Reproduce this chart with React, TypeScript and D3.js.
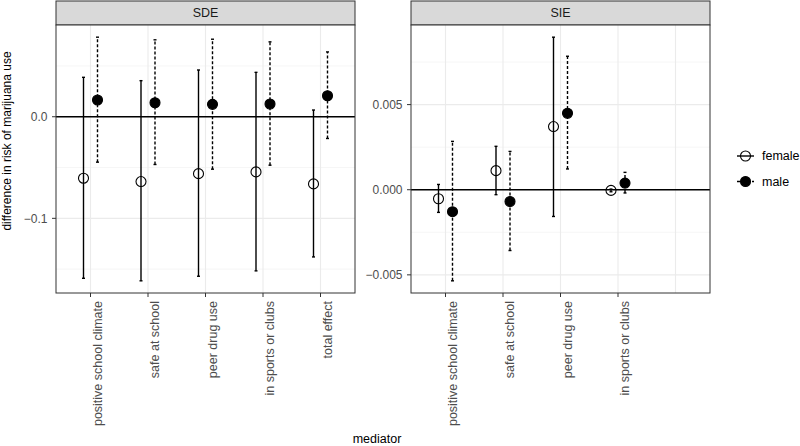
import React from "react";
import * as d3 from "d3";

const categories = ["positive school climate", "safe at school", "peer drug use", "in sports or clubs", "total effect"];
const sieCategories = ["positive school climate", "safe at school", "peer drug use", "in sports or clubs"];

// SDE panel
const sdeFemaleEst = [-0.0605, -0.0638, -0.056, -0.0543, -0.0661];
const sdeFemaleLo = [-0.159, -0.1615, -0.157, -0.1517, -0.138];
const sdeFemaleHi = [0.0388, 0.0355, 0.046, 0.0437, 0.0066];
const sdeMaleEst = [0.0165, 0.0138, 0.0122, 0.0125, 0.0207];
const sdeMaleLo = [-0.0447, -0.047, -0.0516, -0.0477, -0.0214];
const sdeMaleHi = [0.0783, 0.0757, 0.0763, 0.0737, 0.0638];

// SIE panel
const sieFemaleEst = [-0.00053, 0.00112, 0.00371, -0.00004];
const sieFemaleLo = [-0.00133, -0.00029, -0.00157, -0.00012];
const sieFemaleHi = [0.00031, 0.00255, 0.00896, 0.00004];
const sieMaleEst = [-0.00129, -0.00069, 0.00449, 0.00039];
const sieMaleLo = [-0.00535, -0.00357, 0.00122, -0.00019];
const sieMaleHi = [0.00284, 0.00225, 0.00784, 0.00102];

const sdeTicks = [-0.1, 0.0];
const sdeMinor = [-0.15, -0.05, 0.05];
const sieTicks = [-0.005, 0.0, 0.005];
const sieMinor = [-0.0025, 0.0025, 0.0075];

const FONT = "Liberation Sans, Arial, Helvetica, sans-serif";

type Panel = {
  title: string;
  x0: number;
  x1: number;
  tickCats: string[];
  ticks: number[];
  minor: number[];
  fmt: (v: number) => string;
  female: { est: number[]; lo: number[]; hi: number[] };
  male: { est: number[]; lo: number[]; hi: number[] };
};

const panels: Panel[] = [
  {
    title: "SDE",
    x0: 56,
    x1: 355,
    tickCats: categories,
    ticks: sdeTicks,
    minor: sdeMinor,
    fmt: (v) => d3.format(".1f")(v),
    female: { est: sdeFemaleEst, lo: sdeFemaleLo, hi: sdeFemaleHi },
    male: { est: sdeMaleEst, lo: sdeMaleLo, hi: sdeMaleHi },
  },
  {
    title: "SIE",
    x0: 411,
    x1: 710,
    tickCats: sieCategories,
    ticks: sieTicks,
    minor: sieMinor,
    fmt: (v) => d3.format(".3f")(v),
    female: { est: sieFemaleEst, lo: sieFemaleLo, hi: sieFemaleHi },
    male: { est: sieMaleEst, lo: sieMaleLo, hi: sieMaleHi },
  },
];

const PT = 25;
const PB = 293;
const STRIP_TOP = 1;
const DODGE = 7;
const CAP = 1.5;

function PanelView({ p }: { p: Panel }) {
  const all = [...p.female.lo, ...p.female.hi, ...p.male.lo, ...p.male.hi];
  const mn = d3.min(all)!;
  const mx = d3.max(all)!;
  const pad = (mx - mn) * 0.05;
  const y = d3.scaleLinear().domain([mn - pad, mx + pad]).range([PB, PT]);
  const x = d3
    .scalePoint<string>()
    .domain(categories)
    .range([p.x0, p.x1])
    .padding(0.6);

  const bars = (g: { est: number[]; lo: number[]; hi: number[] }, off: number, dashed: boolean, filled: boolean, key: string) =>
    g.est.map((e, i) => {
      const cx = x(categories[i])! + off;
      return (
        <g key={key + i}>
          <line x1={cx} x2={cx} y1={y(g.lo[i])} y2={y(g.hi[i])} stroke="#000" strokeWidth={1.4} strokeDasharray={dashed ? "3,2" : undefined} />
          <line x1={cx - CAP} x2={cx + CAP} y1={y(g.lo[i])} y2={y(g.lo[i])} stroke="#000" strokeWidth={1.4} />
          <line x1={cx - CAP} x2={cx + CAP} y1={y(g.hi[i])} y2={y(g.hi[i])} stroke="#000" strokeWidth={1.4} />
          <circle cx={cx} cy={y(e)} r={5} fill={filled ? "#000" : "#fff"} fillOpacity={filled ? 1 : 0} stroke="#000" strokeWidth={1.1} />
        </g>
      );
    });

  return (
    <g>
      {/* strip */}
      <rect x={p.x0} y={STRIP_TOP} width={p.x1 - p.x0} height={PT - STRIP_TOP} fill="#D9D9D9" stroke="#333333" strokeWidth={1} />
      <text x={(p.x0 + p.x1) / 2} y={(STRIP_TOP + PT) / 2} dy="0.35em" textAnchor="middle" fontSize={12.5} fill="#1A1A1A" fontFamily={FONT}>
        {p.title}
      </text>
      {/* background */}
      <rect x={p.x0} y={PT} width={p.x1 - p.x0} height={PB - PT} fill="#fff" />
      {p.minor.map((v) => (
        <line key={"mn" + v} x1={p.x0} x2={p.x1} y1={y(v)} y2={y(v)} stroke="#F0F0F0" strokeWidth={0.6} />
      ))}
      {p.ticks.map((v) => (
        <line key={"mj" + v} x1={p.x0} x2={p.x1} y1={y(v)} y2={y(v)} stroke="#EBEBEB" strokeWidth={1.1} />
      ))}
      {categories.map((c) => (
        <line key={"vx" + c} x1={x(c)!} x2={x(c)!} y1={PT} y2={PB} stroke="#EBEBEB" strokeWidth={1.1} />
      ))}
      {/* zero line */}
      <line x1={p.x0} x2={p.x1} y1={y(0)} y2={y(0)} stroke="#000" strokeWidth={1.3} />
      {bars(p.female, -DODGE, false, false, "f")}
      {bars(p.male, DODGE, true, true, "m")}
      <rect x={p.x0} y={PT} width={p.x1 - p.x0} height={PB - PT} fill="none" stroke="#333333" strokeWidth={1} />
      {/* y axis */}
      {p.ticks.map((v) => (
        <g key={"yt" + v}>
          <line x1={p.x0 - 4} x2={p.x0} y1={y(v)} y2={y(v)} stroke="#333333" strokeWidth={1} />
          <text x={p.x0 - 8.5} y={y(v)} dy="0.35em" textAnchor="end" fontSize={12} fill="#4D4D4D" fontFamily={FONT}>
            {p.fmt(v)}
          </text>
        </g>
      ))}
      {/* x axis */}
      {p.tickCats.map((c) => (
        <g key={"xt" + c}>
          <line x1={x(c)!} x2={x(c)!} y1={PB} y2={PB + 4} stroke="#333333" strokeWidth={1} />
          <text
            transform={`translate(${x(c)! + 11},${PB + 8}) rotate(-90)`}
            textAnchor="end"
            fontSize={12.5}
            fill="#4D4D4D"
            fontFamily={FONT}
          >
            {c}
          </text>
        </g>
      ))}
    </g>
  );
}

export default function App() {
  return (
    <svg width={800} height={446} style={{ position: "absolute", left: 0, top: 0, background: "#fff" }}>
      <rect width={800} height={446} fill="#fff" />
      {panels.map((p) => (
        <PanelView key={p.title} p={p} />
      ))}
      <text transform={`translate(11,141) rotate(-90)`} textAnchor="middle" fontSize={12} fill="#000" fontFamily={FONT}>
        difference in risk of marijuana use
      </text>
      <text x={377} y={443} textAnchor="middle" fontSize={12.5} fill="#000" fontFamily={FONT}>
        mediator
      </text>
      {/* legend */}
      <g fontFamily={FONT}>
        <line x1={737} x2={754} y1={156} y2={156} stroke="#000" strokeWidth={1.4} />
        <circle cx={745.5} cy={156} r={5} fill="none" stroke="#000" strokeWidth={1.1} />
        <text x={762} y={156} dy="0.35em" fontSize={12.5} fill="#000">female</text>
        <line x1={737} x2={754} y1={181.5} y2={181.5} stroke="#000" strokeWidth={1.4} strokeDasharray="3,2" />
        <circle cx={745.5} cy={181.5} r={5} fill="#000" stroke="#000" strokeWidth={1.1} />
        <text x={762} y={181.5} dy="0.35em" fontSize={12.5} fill="#000">male</text>
      </g>
    </svg>
  );
}
